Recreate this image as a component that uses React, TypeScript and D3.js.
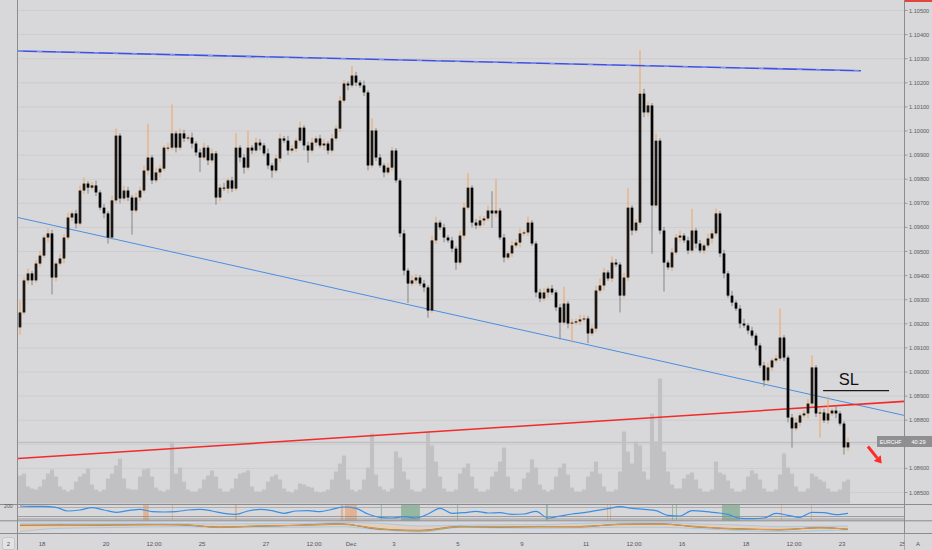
import React from "react";
import * as d3 from "d3";

const W = 932;
const H = 550;

// ---------- DATA ----------
const firstOpen = 1.09185;
const closes = [
  1.09247, 1.0938, 1.09409, 1.0938, 1.0945, 1.09483, 1.09558, 1.09575, 1.09392, 1.0945,
  1.09471, 1.09558, 1.09641, 1.09658, 1.09616, 1.09753, 1.09782, 1.09765, 1.09774, 1.09745,
  1.09682, 1.09658, 1.09558, 1.09712, 1.09981, 1.0972, 1.09753, 1.09724, 1.0967, 1.09724,
  1.09753, 1.09836, 1.0989, 1.09795, 1.09828, 1.09844, 1.09931, 1.09931, 1.0999, 1.09931,
  1.0999, 1.09969, 1.09973, 1.09948, 1.09911, 1.0989, 1.09931, 1.09878, 1.09907, 1.09724,
  1.09765, 1.09761, 1.09795, 1.09761, 1.09931, 1.0989, 1.09848, 1.09931, 1.09919, 1.09952,
  1.0994, 1.09907, 1.09857, 1.09836, 1.09886, 1.09969, 1.0996, 1.09919, 1.09927, 1.0996,
  1.10014, 1.0994, 1.09919, 1.09952, 1.09969, 1.0994, 1.09948, 1.09919, 1.09969, 1.1001,
  1.10126, 1.10197, 1.10189, 1.1023, 1.10201, 1.10189, 1.1016, 1.09857, 1.10002, 1.0989,
  1.09857, 1.09828, 1.09848, 1.09919, 1.09795, 1.09575, 1.09421, 1.09367, 1.0938, 1.09392,
  1.09367, 1.09351, 1.09255, 1.09546, 1.0962, 1.096, 1.09558, 1.09546, 1.09512, 1.09454,
  1.09566, 1.09682, 1.09765, 1.0962, 1.09608, 1.09629, 1.09637, 1.0967, 1.09658, 1.0967,
  1.09558, 1.09475, 1.09492, 1.09525, 1.09537, 1.09575, 1.09579, 1.0962, 1.09533, 1.0933,
  1.09305, 1.0933, 1.09346, 1.0933, 1.09268, 1.09205, 1.09284, 1.09201, 1.09205, 1.0921,
  1.09218, 1.09222, 1.0916, 1.0918, 1.09338, 1.09359, 1.09413, 1.09388, 1.09454, 1.09446,
  1.09317, 1.09392, 1.09682, 1.09587, 1.0962, 1.10155, 1.10077, 1.10106, 1.09691, 1.0996,
  1.09587, 1.09454, 1.09434, 1.09496, 1.09558, 1.09566, 1.09546, 1.09504, 1.09587, 1.09533,
  1.09504, 1.09525, 1.09554, 1.09575, 1.09658, 1.09492, 1.09409, 1.09317, 1.09288, 1.09263,
  1.09201, 1.09193, 1.09172, 1.09151, 1.0911, 1.09027, 1.08965, 1.09019, 1.09048, 1.09056,
  1.09143, 1.0906, 1.08811, 1.08766, 1.0879, 1.0882, 1.08828, 1.08869, 1.09019, 1.08828,
  1.08832, 1.08799, 1.08828, 1.0884, 1.08828, 1.08786, 1.08687, 1.08708,
];
// wick extensions beyond the body, in pips
const wickUp = [
  5, 1.5, 2, 1, 1.5, 2, 1, 2, 1.5, 1, 2, 1.5, 2, 1, 1.5, 2, 2.5, 1, 1.5, 2,
  1, 1.5, 1, 2, 3, 1, 2, 1.5, 1, 2, 1.5, 2, 14, 1, 2, 1.5, 1, 2, 12, 1,
  2, 1.5, 1, 2, 1, 1.5, 2, 1, 2, 1, 1.5, 2, 1, 1.5, 6, 1, 1.5, 7, 1, 2,
  1.5, 1, 2, 1, 1.5, 2, 1, 2, 1.5, 1, 2.5, 1, 1.5, 2, 1, 1.5, 2, 1, 2, 1.5,
  2, 1.5, 1, 4, 1.5, 1, 2, 1, 5, 1, 1.5, 1, 2, 1.5, 1, 1, 1.5, 1, 2, 1.5,
  1, 1.5, 1, 2, 2.5, 1, 1.5, 1, 1.5, 1, 2, 2, 6, 1, 1.5, 2, 1, 2, 8, 13,
  1, 1.5, 1, 2, 1.5, 2, 1, 2.5, 1, 1, 1.5, 2, 1, 1.5, 1, 1.5, 7, 1, 1.5, 1,
  2, 1.5, 1, 1.5, 2, 3, 2, 1, 2.5, 1.5, 1, 2, 8, 1, 1.5, 18, 2, 1.5, 1, 3,
  1, 1.5, 1, 2, 1.5, 2, 1, 1.5, 9, 1, 1.5, 1, 2, 1.5, 2, 1, 1.5, 1, 2, 1,
  1.5, 2, 1, 1.5, 1, 1, 1.5, 2, 1, 1.5, 12, 1, 1, 1.5, 2, 1, 1.5, 2, 5, 1,
  2, 1.5, 7, 1, 2, 1, 1, 2,
];
const wickDn = [
  3, 1, 1.5, 2, 1, 1.5, 1, 2, 7, 1.5, 1, 2, 1, 1.5, 2, 1, 1.5, 2.5, 1, 1.5,
  1, 2, 2.5, 1, 1.5, 2, 1, 1.5, 10, 1, 1.5, 1, 2, 1.5, 1, 2, 1, 1.5, 1, 2,
  1, 1.5, 1, 2, 1.5, 6, 1, 2, 1, 3, 1.5, 1, 2, 1.5, 1, 2, 2.5, 1, 1.5, 1,
  2, 1, 1.5, 3, 1, 1.5, 1, 2, 1, 1.5, 1, 2, 5, 1, 1.5, 1, 2, 1.5, 1, 1,
  1.5, 1, 2, 1, 1.5, 1, 1.5, 2, 1, 1.5, 1, 2, 1, 1.5, 1, 1.5, 2, 8, 1, 1.5,
  1, 2, 3, 1, 1.5, 1, 2, 1, 1.5, 3, 1, 1.5, 1, 2, 1.5, 1, 2, 1, 6, 1.5,
  1, 2, 1, 1.5, 1, 2, 1, 1.5, 1, 2, 1.5, 1, 2, 1, 1.5, 7, 1, 2, 8, 1,
  1.5, 1, 4, 1, 1.5, 1, 2, 1, 1.5, 1, 7, 1, 1.5, 2, 1, 1, 2, 1.5, 20, 1,
  1.5, 12, 1, 1.5, 1, 2, 1, 1.5, 1, 2, 1, 1.5, 1, 2, 1, 1.5, 2, 1, 1.5, 1,
  2, 1, 1.5, 1, 2, 1, 2.5, 1, 1.5, 1, 1, 1.5, 2, 8, 1, 1.5, 1, 2, 1, 1.5,
  10, 1, 1.5, 1, 2, 1, 3, 1.5,
];
const volumes = [
  28, 30, 17, 15, 14, 17, 24, 30, 34, 27, 17, 14, 12, 14, 22, 27, 30, 35, 19, 14,
  12, 14, 25, 30, 38, 45, 25, 15, 14, 14, 27, 34, 35, 27, 16, 13, 12, 14, 62, 30,
  36, 22, 14, 12, 12, 15, 24, 28, 33, 27, 15, 12, 12, 15, 25, 30, 31, 33, 17, 12,
  12, 14, 22, 27, 29, 24, 15, 12, 11, 14, 20, 19, 17, 16, 12, 11, 12, 14, 24, 32,
  40, 48, 24, 14, 12, 14, 24, 36, 70, 29, 17, 14, 12, 15, 52, 46, 32, 24, 14, 12,
  12, 15, 72, 58, 42, 27, 15, 12, 12, 14, 30, 36, 40, 27, 15, 12, 12, 14, 27, 32,
  42, 56, 27, 15, 12, 14, 25, 31, 44, 36, 19, 14, 12, 14, 27, 36, 40, 29, 16, 12,
  12, 14, 27, 32, 42, 30, 17, 12, 12, 14, 32, 72, 52, 40, 62, 58, 32, 24, 90, 62,
  125, 52, 32, 19, 15, 15, 25, 29, 31, 24, 15, 12, 12, 14, 42, 31, 29, 23, 15, 12,
  12, 14, 27, 33, 30, 24, 15, 12, 12, 14, 29, 50, 36, 30, 17, 12, 12, 15, 30, 27,
  24, 22, 15, 12, 12, 14, 22, 24,
];
// oscillator, one value every 3 candles
const oscStep = 3;
const oscValues = [
  200, 190, 190, 162, 57, 86, 152, 86, 19, 67, 105, 38, 29, 38, 86, 105, 57, -10, -38, 57,
  105, 67, -10, 57, 67, 38, 105, 171, 133, -29, -124, -143, -105, -143, -29, 133, -10, 10, 48, 0,
  10, -38, -29, 48, -143, -86, -29, 10, 67, 124, 181, 133, 105, 67, -67, -86, 67, 48, 10, -38,
  -152, -162, -143, -10, -67, -124, 19, 10, -48, -10,
];
// lower indicator pane
const p2Index = [0, 10, 20, 30, 40, 50, 60, 70, 80, 90, 100, 110, 120, 130, 140, 150, 160, 170, 180, 190, 200, 207];
const p2Orange = [8, 7.7, 8, 8.3, 8.3, 5.7, 7, 7.7, 9, 4, 2.3, 6.3, 6, 6.3, 6.3, 8.7, 9, 6, 4, 3.3, 5.3, 3.7];
const p2Grey = [7.4, 8.2, 7.5, 8.6, 8.0, 6.1, 6.6, 7.9, 9.4, 3.6, 2.7, 6.7, 5.6, 6.6, 6.0, 8.9, 9.3, 5.6, 4.3, 3.0, 5.6, 3.5];
const p2Green = [7.8, 7.4, 8.3, 8.0, 8.6, 5.4, 7.3, 7.5, 8.7, 4.4, 2.0, 6.0, 6.3, 6.0, 6.6, 8.4, 8.7, 6.3, 3.7, 3.6, 5.0, 4.0];
const p2Upper = [9.7, 9.7, 9.7, 9.7, 9.3, 9, 9.3, 9.3, 10.7, 9.7, 7, 7.7, 8.3, 8.3, 9.7, 10.3, 10.7, 9, 8, 6.3, 6.7, 7];
const p2Lower = [1.3, 4.7, 5.3, 6, 6.3, 5.7, 5.7, 5.7, 6.3, 3.2, 1.0, 5.7, 5, 4.7, 5, 5.7, 5.7, 4.3, 2.3, 1.3, 2.3, 3];

const orangeZoneStart = [3.16, 4.06, 6.03, 9.34, 9.47, 17.66, 17.75, 23.09, 24.03];
const orangeZoneEnd = [3.34, 4.09, 6.09, 9.41, 9.84, 17.69, 17.78, 23.12, 24.06];
const greenZoneStart = [10.59, 11.22, 12.97, 15.75, 19.69, 19.81, 21.25];
const greenZoneEnd = [10.62, 11.81, 13.0, 15.81, 19.72, 19.84, 21.81];

const priceTicks = [1.085, 1.086, 1.087, 1.088, 1.089, 1.09, 1.091, 1.092, 1.093, 1.094, 1.095, 1.096, 1.097, 1.098, 1.099, 1.1, 1.101, 1.102, 1.103, 1.104, 1.105];
const timeLabels = ["18", "20", "12:00", "25", "27", "12:00", "Dec", "3", "5", "9", "11", "12:00", "16", "18", "12:00", "23", "25"];
const timeDays = [0, 2, 3.5, 5, 7, 8.5, 9.66, 11, 13, 15, 17, 18.5, 20, 22, 23.5, 25, 26.9];

// drawings (trading-day, price)
const topLineDays = [-0.75, 25.59];
const topLinePrices = [1.10332, 1.1025];
const blueLineDays = [-0.75, 26.94];
const blueLinePrices = [1.09641, 1.0882];
const redLineDays = [-0.75, 26.94];
const redLinePrices = [1.08641, 1.08878];
const slDays = [24.41, 26.47];
const slPrice = 1.08923;
const arrowDays = [25.81, 26.24];
const arrowPrices = [1.08691, 1.0862];

// ---------- SCALES ----------
const x = d3.scaleLinear().domain([0, 27]).range([42, 42 + 27 * 32]);
const y = d3.scaleLinear().domain([1.085, 1.105]).range([492.5, 10.5]);
const yVol = d3.scaleLinear().domain([0, 130]).range([503.5, 373.5]);
const yOsc = d3.scaleLinear().domain([-200, 200]).range([520, 506]);
const yP2 = d3.scaleLinear().domain([0, 12]).range([533, 521]);
const candleDay = (i: number) => i / 8 - 0.6875;

const FONT = "'Liberation Sans', Arial, sans-serif";

export default function App() {
  const candles = closes.map((c, i) => {
    const o = i === 0 ? firstOpen : closes[i - 1];
    const hi = Math.max(o, c) + wickUp[i] * 1e-4;
    const lo = Math.min(o, c) - wickDn[i] * 1e-4;
    return { i, o, c, hi, lo, up: c >= o, cx: x(candleDay(i)) };
  });

  const seg = d3
    .line<[number, number]>()
    .x((d) => x(d[0]))
    .y((d) => y(d[1]));

  const oscLine = d3
    .line<number>()
    .x((_, k) => x(candleDay(k * oscStep)))
    .y((v) => yOsc(v))
    .curve(d3.curveMonotoneX);

  const p2Line = (arr: number[]) =>
    d3
      .line<number>()
      .x((_, k) => x(candleDay(p2Index[k])))
      .y((v) => yP2(v))
      .curve(d3.curveMonotoneX)(arr) || "";

  const p2Area =
    d3
      .area<number>()
      .x((_, k) => x(candleDay(p2Index[k])))
      .y0((_, k) => yP2(p2Lower[k]))
      .y1((v) => yP2(v))
      .curve(d3.curveMonotoneX)(p2Upper) || "";

  const lastClose = closes[closes.length - 1];
  const lastY = y(lastClose);

  // arrow geometry
  const ax0 = x(arrowDays[0]);
  const ay0 = y(arrowPrices[0]);
  const ax1 = x(arrowDays[1]);
  const ay1 = y(arrowPrices[1]);
  const ang = Math.atan2(ay1 - ay0, ax1 - ax0);
  const headL = 7;
  const headW = 4.5;
  const bx = ax1 - headL * Math.cos(ang);
  const by = ay1 - headL * Math.sin(ang);
  const px = -Math.sin(ang);
  const py = Math.cos(ang);

  return (
    <div style={{ position: "absolute", left: 0, top: 0, width: W, height: H }}>
      <svg width={W} height={H} style={{ display: "block", fontFamily: FONT }}>
        <defs>
          <clipPath id="mainClip">
            <rect x={18} y={0} width={886} height={504} />
          </clipPath>
          <clipPath id="paneClip">
            <rect x={18} y={504} width={886} height={29} />
          </clipPath>
        </defs>
        <rect x={0} y={0} width={W} height={H} fill="#d8d8da" />

        {/* grid */}
        {priceTicks.map((p) => (
          <line key={"g" + p} x1={18} x2={904} y1={y(p)} y2={y(p)} stroke="#cdcdd0" strokeWidth={1} />
        ))}
        <line x1={18} x2={904} y1={lastY} y2={lastY} stroke="#b9b9bc" strokeWidth={1} />

        <g clipPath="url(#mainClip)">
          {/* volume */}
          {volumes.map((v, i) => (
            <rect
              key={"v" + i}
              x={x(candleDay(i)) - 2.1}
              y={yVol(v)}
              width={4.2}
              height={yVol(0) - yVol(v)}
              fill="#c1c1c3"
            />
          ))}

          {/* trend lines behind candles */}
          <path d={seg([[blueLineDays[0], blueLinePrices[0]], [blueLineDays[1], blueLinePrices[1]]]) || ""} stroke="#4a8fe0" strokeWidth={1} fill="none" />
          <path d={seg([[redLineDays[0], redLinePrices[0]], [redLineDays[1], redLinePrices[1]]]) || ""} stroke="#f22a2a" strokeWidth={1.6} fill="none" />

          {/* candles */}
          {candles.map((d) => (
            <line
              key={"w" + d.i}
              x1={d.cx}
              x2={d.cx}
              y1={y(d.hi)}
              y2={y(d.lo)}
              stroke={d.up ? "#f0a45e" : "#858585"}
              strokeWidth={1}
            />
          ))}
          {candles.map((d) => {
            const top = y(Math.max(d.o, d.c));
            const h = Math.max(1, Math.abs(y(d.o) - y(d.c)));
            return (
              <rect
                key={"b" + d.i}
                x={d.cx - 1.35}
                y={top}
                width={2.7}
                height={h}
                fill={d.up ? "#1c1712" : "#050505"}
              />
            );
          })}

          {/* upper resistance line */}
          <path d={seg([[topLineDays[0], topLinePrices[0]], [topLineDays[1], topLinePrices[1]]]) || ""} stroke="#3f4fe3" strokeWidth={1.7} fill="none" />
          <path d={seg([[topLineDays[0], topLinePrices[0]], [topLineDays[1], topLinePrices[1]]]) || ""} stroke="#8fb2ee" strokeWidth={0.8} strokeDasharray="5 14" fill="none" />

          {/* SL */}
          <line x1={x(slDays[0])} x2={x(slDays[1])} y1={y(slPrice)} y2={y(slPrice)} stroke="#1a1a1a" strokeWidth={1.2} />
          <text x={x(24.9)} y={y(1.08944)} fontSize={16.5} fill="#111" fontFamily={FONT}>
            SL
          </text>

          {/* red arrow */}
          <line x1={ax0} y1={ay0} x2={bx} y2={by} stroke="#ff2b2b" strokeWidth={3} />
          <polygon
            points={`${ax1},${ay1} ${bx + px * headW},${by + py * headW} ${bx - px * headW},${by - py * headW}`}
            fill="#ff2b2b"
          />
        </g>

        {/* indicator panes */}
        <g clipPath="url(#paneClip)">
          {orangeZoneStart.map((s, k) => (
            <rect
              key={"oz" + k}
              x={x(s)}
              y={505}
              width={Math.max(1, x(orangeZoneEnd[k]) - x(s))}
              height={15.5}
              fill="#e3a77c"
              opacity={0.75}
            />
          ))}
          {greenZoneStart.map((s, k) => (
            <rect
              key={"gz" + k}
              x={x(s)}
              y={505}
              width={Math.max(1, x(greenZoneEnd[k]) - x(s))}
              height={15.5}
              fill="#5f9f74"
              opacity={0.55}
            />
          ))}
          <line x1={18} x2={904} y1={507.5} y2={507.5} stroke="#a4a4a6" strokeWidth={0.8} />
          <line x1={18} x2={904} y1={516.5} y2={516.5} stroke="#8e8e90" strokeWidth={0.8} />
          <line x1={18} x2={904} y1={519} y2={519} stroke="#8e8e90" strokeWidth={0.8} />
          <path d={oscLine(oscValues) || ""} stroke="#3b8fe3" strokeWidth={1.2} fill="none" />

          <path d={p2Area} fill="#f2c9a0" opacity={0.55} />
          <path d={p2Line(p2Upper)} stroke="#a9c8e8" strokeWidth={1} fill="none" />
          <path d={p2Line(p2Lower)} stroke="#a9c8e8" strokeWidth={1} fill="none" />
          <path d={p2Line(p2Green)} stroke="#5ea05e" strokeWidth={0.8} fill="none" />
          <path d={p2Line(p2Grey)} stroke="#6f6f6f" strokeWidth={0.8} fill="none" />
          <path d={p2Line(p2Orange)} stroke="#ef9640" strokeWidth={1} fill="none" />
        </g>

        {/* frame lines */}
        <line x1={0} x2={W} y1={504.5} y2={504.5} stroke="#8c8c8e" strokeWidth={1} />
        <line x1={0} x2={W} y1={520.8} y2={520.8} stroke="#8c8c8e" strokeWidth={1} />
        <line x1={0} x2={W} y1={533.5} y2={533.5} stroke="#8c8c8e" strokeWidth={1} />
        <line x1={17.5} x2={17.5} y1={0} y2={H} stroke="#8c8c8e" strokeWidth={1} />
        <line x1={904.5} x2={904.5} y1={0} y2={H} stroke="#8c8c8e" strokeWidth={1} />

        {/* price axis */}
        {priceTicks.map((p) => (
          <g key={"t" + p}>
            <line x1={904.5} x2={907.5} y1={y(p)} y2={y(p)} stroke="#8c8c8e" strokeWidth={0.8} />
            {Math.abs(y(p) - lastY) > 8 ? (
              <text x={909} y={y(p) + 2} fontSize={5.6} fill="#5a5a5c">
                {p.toFixed(5)}
              </text>
            ) : null}
          </g>
        ))}
        <rect x={905} y={0} width={27} height={2} fill="#e0463c" />

        {/* last price labels */}
        <rect x={877} y={436} width={27} height={11} fill="#8f8f91" />
        <text x={890.5} y={443.5} fontSize={5.2} fill="#ffffff" textAnchor="middle">
          EURCHF
        </text>
        <rect x={905} y={436} width={27} height={11} fill="#8f8f91" />
        <text x={918.5} y={443.5} fontSize={5.6} fill="#ffffff" textAnchor="middle">
          40:29
        </text>

        {/* oscillator label */}
        <text x={4} y={507.5} fontSize={5.2} fill="#5a5a5c">
          200
        </text>

        {/* time axis */}
        {timeLabels.map((t, k) => (
          <text key={"tl" + k} x={x(timeDays[k])} y={546} fontSize={6} fill="#555557" textAnchor="middle">
            {t}
          </text>
        ))}
        <rect x={904.6} y={534} width={27.4} height={16} fill="#d8d8da" />
        <text x={918} y={546} fontSize={6} fill="#555557" textAnchor="middle">
          A
        </text>
        <rect x={2.5} y={537.5} width={12} height={12} rx={2} fill="#e3e3e5" stroke="#b5b5b7" strokeWidth={0.6} />
        <text x={8.5} y={546} fontSize={6} fill="#555557" textAnchor="middle">
          2
        </text>
      </svg>
    </div>
  );
}
